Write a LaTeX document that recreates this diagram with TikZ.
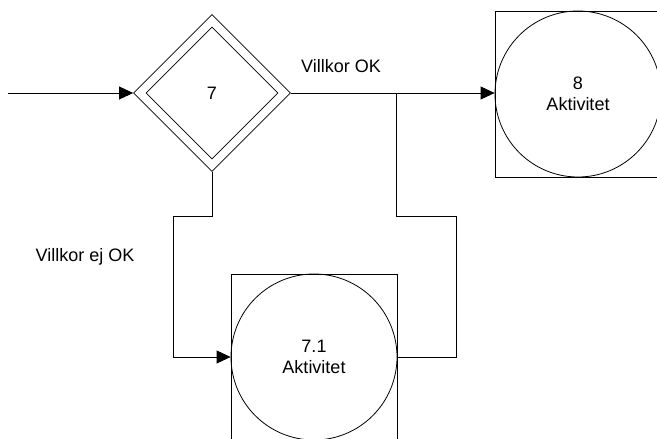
\documentclass[tikz,border=0pt]{standalone}
\usepackage{fontspec}
\setmainfont{Liberation Sans}
\usetikzlibrary{shapes.geometric,arrows.meta}
\begin{document}
\begin{tikzpicture}[x=1pt,y=-1pt,
 line/.style={draw=black,line width=0.9pt},
 arr/.style={line,-{Triangle[length=14pt,width=13pt]}},
 dia/.style={diamond,draw,line width=0.8pt,inner sep=0pt,aspect=1},
 actbox/.style={rectangle,draw,line width=0.8pt,minimum size=166pt,inner sep=0pt},
 actcirc/.style={circle,draw,line width=0.8pt,minimum size=166pt,inner sep=0pt,align=center,font=\fontsize{18}{21}\selectfont},
 lbl/.style={font=\fontsize{18}{21}\selectfont,inner sep=0pt}]
\useasboundingbox (0,0) rectangle (657,439);
\clip (0,0) rectangle (657,439);
% decision
\node[dia,minimum width=157pt,minimum height=157pt] (d) at (212,93) {};
\node[dia,minimum width=132pt,minimum height=132pt,font=\fontsize{18}{21}\selectfont] (di) at (212,93) {7};
% activity 8
\node[actbox] (b8) at (578,94) {};
\node[actcirc] (c8) at (578,94) {8\\Aktivitet};
% activity 7.1
\node[actbox] (b71) at (314,357) {};
\node[actcirc] (c71) at (314,357) {7.1\\Aktivitet};
% labels
\node[lbl] (lok) at (341,66) {Villkor OK};
\node[lbl] (lnok) at (85,257) {Villkor ej OK};
% coordinates
\coordinate (start) at (8,93);
\coordinate (j1) at (396,93);
\coordinate (j2) at (396,216);
\coordinate (r) at (456,216);
\coordinate (l1) at (212,216);
\coordinate (l2) at (173,216);
% connectors
\draw[arr] (start) -- (d.west);
\draw[arr] (d.east) -- (d.east -| b8.west);
\draw[line] (c71.east) -| (r) -- (j2) -- (j1);
\draw[line] (d.south) -- (l1) -- (l2);
\draw[arr] (l2) |- (b71.west);
\end{tikzpicture}
\end{document}
